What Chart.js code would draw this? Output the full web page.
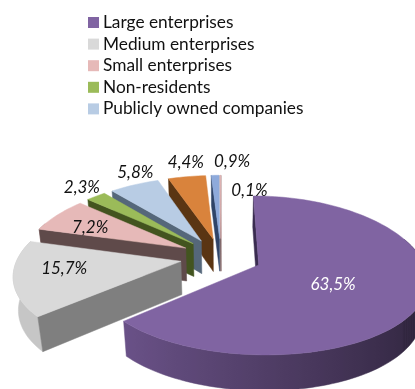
<!DOCTYPE html>
<html>
<head>
<meta charset="utf-8">
<title>Enterprises</title>
<script src="https://cdn.jsdelivr.net/npm/chart.js@4"></script>
<style>
  html, body { margin: 0; padding: 0; background: #fff; overflow: hidden; }
  canvas { display: block; }
</style>
</head>
<body>
<canvas id="pie" width="415" height="389"></canvas>
<script>
const categories = ['Large enterprises', 'Medium enterprises', 'Small enterprises', 'Non-residents', 'Publicly owned companies', 'Other 1', 'Other 2', 'Other 3'];
const shares = [63.5, 15.7, 7.2, 2.3, 5.8, 4.4, 0.9, 0.1];
const legendCount = 5;

const topColors = ['#8064a2', '#d9d9d9', '#e6b9b8', '#9bbb59', '#b8cce4', '#d9833c', '#8eaadb', '#e6b9b8'];
const wallColors = ['#3a2c50', '#7f7f7f', '#5f4a4a', '#43541f', '#55677a', '#5a3513', '#2f4468', '#7a5a5a'];
const rimColors = ['#604a7b', '#b4b4b4', '#a08080', '#6f8a3a', '#8a9db5', '#a5602a', '#5a78a8', '#a08080'];
const labelColors = ['#ffffff', '#111111', '#111111', '#111111', '#111111', '#111111', '#111111', '#111111'];
// label position relative to the outer middle of its slice
const labelShift = [[-90, -15], [51, -10], [33, 12], [-14, -9], [1, -12], [-1, -14], [17, -14], [29, 15]];

// camera used for the tilted pie
const cam = { x: 221, y: 257, k: 163, ky: 76, persp: 0.159, perspY: 0.13, depth: 34, shrink: 0.025, explode: 0.25 };

function project(u, v, z) {
    const w = 1 - cam.persp * v + cam.shrink * z;
    const wy = 1 - cam.perspY * v + cam.shrink * z;
    return { x: cam.x + cam.k * u / w, y: cam.y + (cam.ky * v + cam.depth * z) / wy };
}

function fillPoly(ctx, pts, color) {
    ctx.beginPath();
    pts.forEach((p, i) => i ? ctx.lineTo(p.x, p.y) : ctx.moveTo(p.x, p.y));
    ctx.closePath();
    ctx.fillStyle = color;
    ctx.strokeStyle = color;
    ctx.lineWidth = 0.5;
    ctx.fill();
    ctx.stroke();
}

function area(pts) {
    let s = 0;
    pts.forEach((p, i) => {
        const q = pts[(i + 1) % pts.length];
        s += p.x * q.y - q.x * p.y;
    });
    return s;
}

function shade(hex, f) {
    const n = parseInt(hex.slice(1), 16);
    const c = [n >> 16, (n >> 8) & 255, n & 255].map(v => Math.min(255, Math.round(v * f)));
    return `rgb(${c[0]},${c[1]},${c[2]})`;
}

// outer rim, light on the left and dark on the right; its back part ends up under the top surface
function drawRim(ctx, at, from, to, steps, color) {
    const angles = [];
    for (let s = 0; s <= steps; s++) {
        const a = from + (to - from) * s / steps;
        if (Math.sin(a) >= -0.35) angles.push(a);
    }
    if (angles.length < 2) return;
    const upper = angles.map(a => at(a, 1, 0));
    const lower = angles.map(a => at(a, 1, 1)).reverse();
    const xs = upper.map(p => p.x);
    const minX = Math.min(...xs), maxX = Math.max(...xs);
    const grad = ctx.createLinearGradient(minX, 0, maxX, 0);
    angles.forEach((a, n) => {
        const t = maxX > minX ? (xs[n] - minX) / (maxX - minX) : 0;
        grad.addColorStop(t, shade(color, Math.min(1.1, 0.834 - 0.355 * Math.cos(a))));
    });
    fillPoly(ctx, upper.concat(lower), grad);
}

// one exploded slice: cut faces, rim, then the top surface
function drawSlice(ctx, arc, i) {
    const { startAngle, endAngle } = arc.getProps(['startAngle', 'endAngle'], true);
    const mid = (startAngle + endAngle) / 2;
    const ox = Math.cos(mid) * cam.explode;
    const oy = Math.sin(mid) * cam.explode;
    const at = (a, r, z) => project(ox + Math.cos(a) * r, oy + Math.sin(a) * r, z);
    const steps = Math.max(2, Math.ceil((endAngle - startAngle) / 0.03));

    // cut faces, walked so that a negative area faces the viewer
    const apexTop = at(0, 0, 0), apexBottom = at(0, 0, 1);
    const startFace = [apexTop, at(startAngle, 1, 0), at(startAngle, 1, 1), apexBottom];
    const endFace = [at(endAngle, 1, 0), apexTop, apexBottom, at(endAngle, 1, 1)];

    drawRim(ctx, at, startAngle, endAngle, steps, rimColors[i]);

    if (area(startFace) < 0) fillPoly(ctx, startFace, wallColors[i]);
    if (area(endFace) < 0) fillPoly(ctx, endFace, wallColors[i]);

    const top = [apexTop];
    for (let s = 0; s <= steps; s++) {
        top.push(at(startAngle + (endAngle - startAngle) * s / steps, 1, 0));
    }
    fillPoly(ctx, top, topColors[i]);
}

const pie3d = {
    id: 'pie3d',
    beforeDatasetDraw(chart, args) {
        const ctx = chart.ctx;
        const arcs = chart.getDatasetMeta(args.index).data;
        ctx.save();
        // back slices first, the big front one last
        for (let i = arcs.length - 1; i >= 0; i--) drawSlice(ctx, arcs[i], i);
        ctx.restore();
        return false;
    },
    afterDraw(chart) {
        const ctx = chart.ctx;
        const arcs = chart.getDatasetMeta(0).data;
        ctx.save();
        ctx.textBaseline = 'middle';
        ctx.textAlign = 'center';
        ctx.font = 'italic 17px Lato';
        arcs.forEach((arc, i) => {
            const { startAngle, endAngle } = arc.getProps(['startAngle', 'endAngle'], true);
            const mid = (startAngle + endAngle) / 2;
            const r = 1 + cam.explode;
            const p = project(Math.cos(mid) * r, Math.sin(mid) * r, 0);
            ctx.fillStyle = labelColors[i];
            ctx.fillText(shares[i].toFixed(1).replace('.', ',') + '%', p.x + labelShift[i][0], p.y + labelShift[i][1]);
        });

        // legend column
        ctx.textAlign = 'left';
        ctx.font = '17.3px Lato';
        for (let i = 0; i < legendCount; i++) {
            const y = 22.5 + i * 21.6;
            ctx.fillStyle = topColors[i];
            ctx.fillRect(88, y - 5.5, 11, 11);
            ctx.fillStyle = '#111111';
            ctx.fillText(categories[i], 103, y);
        }
        ctx.restore();
    }
};

new Chart(document.getElementById('pie'), {
    type: 'pie',
    data: {
        labels: categories,
        datasets: [{ data: shares, backgroundColor: topColors, borderWidth: 0 }]
    },
    options: {
        responsive: false,
        animation: false,
        plugins: { legend: { display: false }, tooltip: { enabled: false } }
    },
    plugins: [pie3d]
});
</script>
</body>
</html>
